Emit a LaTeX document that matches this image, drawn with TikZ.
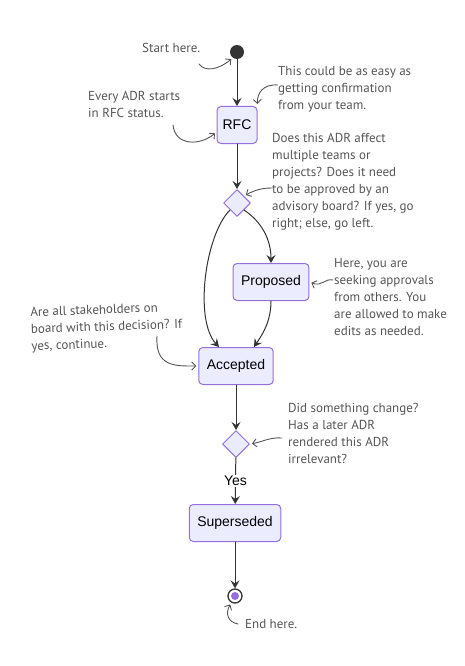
\documentclass[tikz,border=0pt]{standalone}
\usepackage{fontspec}
\setmainfont{Liberation Sans}
\newfontfamily\notefont{PT Sans}
\usetikzlibrary{arrows.meta,shapes.geometric}
\definecolor{statefill}{HTML}{ECECFF}
\definecolor{stateline}{HTML}{9370DB}
\definecolor{ink}{HTML}{333333}
\definecolor{notegray}{HTML}{555555}
\begin{document}
\begin{tikzpicture}[x=1pt, y=1pt, line join=round, line cap=round,
	state/.style={draw=stateline, fill=statefill, rounded corners=4pt, line width=1pt, minimum height=37pt, inner xsep=8pt, font=\fontsize{14}{16}\selectfont},
	choice/.style={diamond, draw=stateline, fill=statefill, line width=1pt, minimum size=27pt, inner sep=0pt},
	flow/.style={draw=ink, line width=1pt, -{Stealth[length=8pt,width=9pt,inset=3pt]}},
	note/.style={inner sep=0pt, anchor=north west, align=left, text=notegray, font=\notefont\fontsize{13}{17}\selectfont},
	hint/.style={draw=notegray, line width=0.9pt, -{Straight Barb[length=4pt,width=8pt]}, shorten >=2pt}]
		\useasboundingbox (0,0) rectangle (464,-666);
		% Các trạng thái
		\node[circle, fill=ink, minimum size=14pt, inner sep=0pt] (start) at (237,-52) {};
		\node[state, minimum width=40pt, inner xsep=5pt] (rfc) at (237,-125) {RFC};
		\node[choice] (d1) at (237,-203) {};
		\node[state] (prop) at (271,-282) {Proposed};
		\node[state] (acc) at (236,-366) {Accepted};
		\node[choice] (d2) at (236,-444) {};
		\node[state] (sup) at (235,-523) {Superseded};
		\node[circle, draw=ink, line width=1.3pt, fill=white, minimum size=14pt, inner sep=0pt] (end) at (235,-596) {};
		\node[circle, fill=stateline, minimum size=8pt, inner sep=0pt] (enddot) at (end) {};
		% Các mũi tên chuyển trạng thái
		\draw[flow] (start) -- (rfc);
		\draw[flow] (rfc) -- (d1);
		\draw[flow] (d1.south west) .. controls (205,-235) and (194,-320) .. ([xshift=-17pt]acc.north);
		\draw[flow] (d1.south east) .. controls (262,-222) and (271,-240) .. (prop.north);
		\draw[flow] (prop.south) .. controls (271,-322) and (262,-335) .. ([xshift=18pt]acc.north);
		\draw[flow] (acc) -- (d2);
		\draw[flow] (d2) -- node[fill=white, inner sep=1pt, font=\fontsize{14}{16}\selectfont] {Yes} (sup);
		\draw[flow] (sup) -- (end);
		% Các ghi chú
		\node[note] (n1) at (142,-43) {Start here.};
		\node[note] (n2) at (278,-66) {This could be as easy as\\getting confirmation\\from your team.};
		\node[note] (n3) at (88,-91) {Every ADR starts\\in RFC status.};
		\node[note] (n4) at (272,-133) {Does this ADR affect\\multiple teams or\\projects? Does it need\\to be approved by an\\advisory board? If yes, go\\right; else, go left.};
		\node[note] (n5) at (334,-258) {Here, you are\\seeking approvals\\from others. You\\are allowed to make\\edits as needed.};
		\node[note, rotate=2] (n6) at (30,-307) {Are all stakeholders on\\board with this decision? If\\yes, continue.};
		\node[note] (n7) at (288,-403) {Did something change?\\Has a later ADR\\rendered this ADR\\irrelevant?};
		\node[note] (n8) at (245,-619) {End here.};
		\coordinate (t1) at (199,-64);
		\coordinate (t2) at (278,-85);
		\coordinate (t3) at (173,-125);
		\coordinate (t4) at (272,-188);
		\coordinate (t5) at (333,-280);
		\coordinate (t6) at (157,-336);
		\coordinate (t7) at (282,-438);
		\coordinate (t8) at (238,-624);
		\draw[hint] (t1) .. controls (205,-72) and (218,-70) .. (start.235);
		\draw[hint] (t2) .. controls (263,-84) and (257,-93) .. (rfc.north east);
		\draw[hint] (t3) .. controls (175,-146) and (200,-146) .. ([yshift=-7pt]rfc.west);
		\draw[hint] (t4) .. controls (262,-188) and (255,-190) .. (d1.north east);
		\draw[hint] (t5) .. controls (325,-278) and (322,-287) .. (prop.east);
		\draw[hint] (t6) .. controls (155,-367) and (175,-366) .. (acc.west);
		\draw[hint] (t7) .. controls (270,-437) and (262,-442) .. (d2.east);
		\draw[hint] (t8) .. controls (228,-622) and (225,-614) .. (end.240);
	\end{tikzpicture}
\end{document}
